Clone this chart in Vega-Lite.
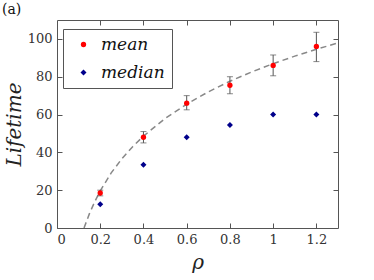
{
  "$schema": "https://vega.github.io/schema/vega-lite/v6.json",
  "width": 281,
  "height": 208,
  "autosize": {"type": "none"},
  "padding": {"left": 57, "top": 20, "right": 36, "bottom": 52},
  "background": "white",
  "title": {"text": "(a)", "anchor": "start", "frame": "group", "font": "DejaVu Serif", "fontSize": 14, "fontWeight": "normal", "color": "#111", "dx": -55, "dy": -1, "offset": 2},
  "config": {
    "view": {"stroke": "#555", "strokeWidth": 1},
    "axis": {"labelFont": "DejaVu Serif", "labelFontSize": 13, "labelColor": "#333", "domain": false, "grid": false, "tickColor": "#555", "tickSize": -5, "titleFont": "DejaVu Serif", "titleFontStyle": "italic", "titleFontWeight": "normal", "titleColor": "#222"},
    "legend": {"labelFont": "DejaVu Serif", "labelFontStyle": "italic", "labelFontSize": 17, "labelColor": "#111"}
  },
  "datasets": {
    "pts": [
      {"rho": 0.2, "stat": "mean", "value": 18.5, "lo": 17.0, "hi": 20.0},
      {"rho": 0.4, "stat": "mean", "value": 48.0, "lo": 45.0, "hi": 51.0},
      {"rho": 0.6, "stat": "mean", "value": 66.0, "lo": 62.5, "hi": 70.0},
      {"rho": 0.8, "stat": "mean", "value": 75.5, "lo": 71.0, "hi": 80.0},
      {"rho": 1.0, "stat": "mean", "value": 86.0, "lo": 80.5, "hi": 91.5},
      {"rho": 1.2, "stat": "mean", "value": 96.0, "lo": 88.0, "hi": 103.5},
      {"rho": 0.2, "stat": "median", "value": 12.5},
      {"rho": 0.4, "stat": "median", "value": 33.5},
      {"rho": 0.6, "stat": "median", "value": 48.0},
      {"rho": 0.8, "stat": "median", "value": 54.5},
      {"rho": 1.0, "stat": "median", "value": 60.0},
      {"rho": 1.2, "stat": "median", "value": 60.0}
    ],
    "fit": [
      {"rho": 0.125, "value": 0.0},
      {"rho": 0.15, "value": 7.6},
      {"rho": 0.175, "value": 14.0},
      {"rho": 0.2, "value": 19.6},
      {"rho": 0.25, "value": 29.0},
      {"rho": 0.3, "value": 36.6},
      {"rho": 0.35, "value": 43.0},
      {"rho": 0.4, "value": 48.6},
      {"rho": 0.5, "value": 57.9},
      {"rho": 0.6, "value": 65.5},
      {"rho": 0.7, "value": 72.0},
      {"rho": 0.8, "value": 77.6},
      {"rho": 0.9, "value": 82.5},
      {"rho": 1.0, "value": 86.9},
      {"rho": 1.1, "value": 90.9},
      {"rho": 1.2, "value": 94.5},
      {"rho": 1.3, "value": 97.9}
    ]
  },
  "layer": [
    {
      "data": {"name": "fit"},
      "mark": {"type": "line", "color": "#888", "strokeWidth": 1.5, "strokeDash": [6, 4], "clip": true},
      "encoding": {
        "x": {"field": "rho", "type": "quantitative", "scale": {"domain": [0, 1.3], "nice": false}, "axis": {"values": [0, 0.2, 0.4, 0.6, 0.8, 1, 1.2], "format": "~g", "title": "ρ", "titleFontSize": 20, "labelPadding": 10, "titlePadding": 6}},
        "y": {"field": "value", "type": "quantitative", "scale": {"domain": [0, 110], "nice": false}, "axis": {"values": [0, 20, 40, 60, 80, 100], "title": "Lifetime", "titleFontSize": 20, "labelPadding": 10, "titlePadding": 3}}
      }
    },
    {
      "data": {"name": "pts"},
      "transform": [{"filter": "datum.stat === 'mean'"}],
      "mark": {"type": "errorbar", "ticks": {"size": 6, "color": "#555"}, "color": "#555", "thickness": 1},
      "encoding": {
        "x": {"field": "rho", "type": "quantitative", "axis": {"orient": "top", "labels": false, "title": null, "values": [0.2, 0.4, 0.6, 0.8, 1, 1.2]}},
        "y": {"field": "lo", "type": "quantitative", "axis": {"orient": "right", "labels": false, "title": null, "values": [20, 40, 60, 80, 100]}},
        "y2": {"field": "hi"}
      }
    },
    {
      "data": {"name": "pts"},
      "mark": {"type": "point", "filled": true, "opacity": 1},
      "encoding": {
        "x": {"field": "rho", "type": "quantitative", "axis": null},
        "y": {"field": "value", "type": "quantitative", "axis": null},
        "size": {"field": "stat", "type": "nominal", "scale": {"domain": ["mean", "median"], "range": [28, 36]}, "legend": null},
        "color": {"field": "stat", "type": "nominal", "scale": {"domain": ["mean", "median"], "range": ["#ff0000", "#00008b"]}, "legend": {"orient": "none", "legendX": 6, "legendY": 9, "title": null, "strokeColor": "#555", "padding": 7, "fillColor": "white", "symbolSize": 26, "rowPadding": 10, "labelOffset": 9, "symbolOffset": 5}},
        "shape": {"field": "stat", "type": "nominal", "scale": {"domain": ["mean", "median"], "range": ["circle", "diamond"]}}
      }
    }
  ],
  "resolve": {"axis": {"x": "independent", "y": "independent"}}
}
